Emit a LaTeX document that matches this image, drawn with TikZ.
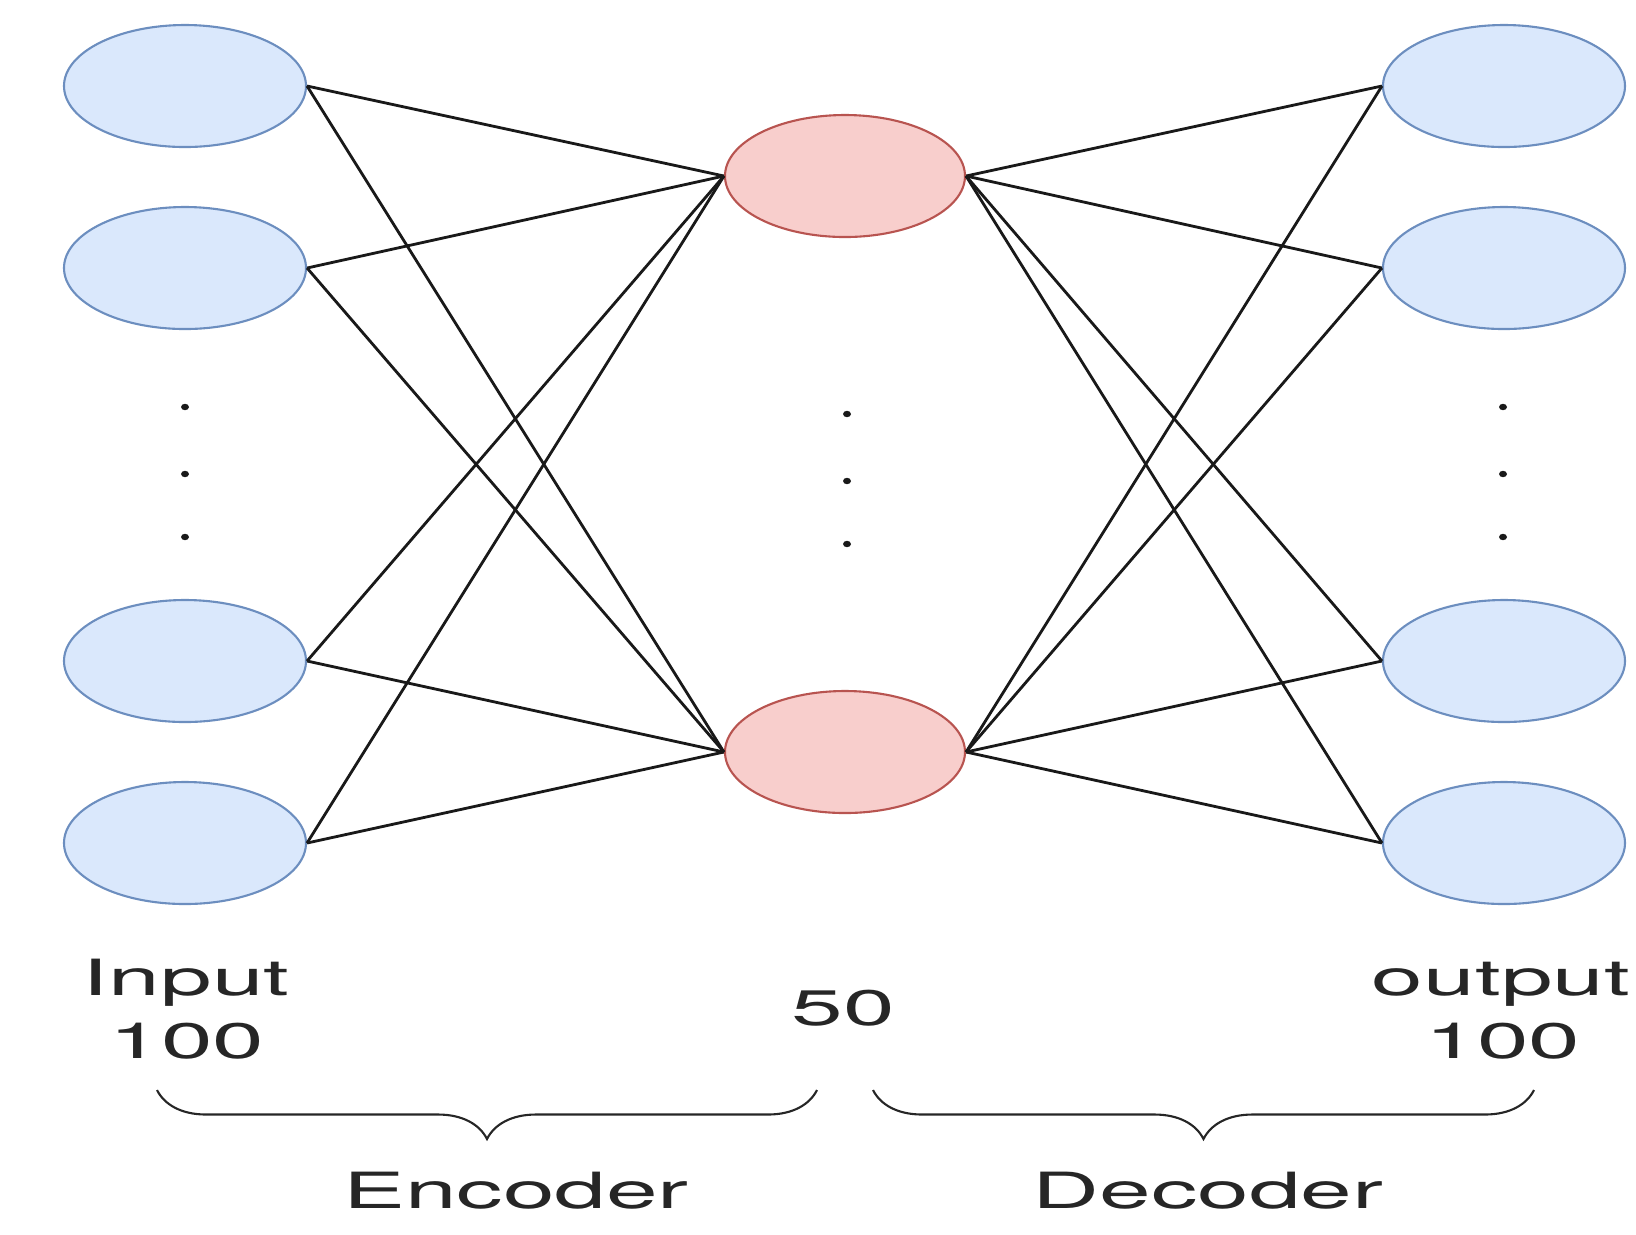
\documentclass[tikz,border=0pt]{standalone}
\usepackage{fontspec}
\setmainfont{TeX Gyre Heros}[FakeStretch=1.86]
\usetikzlibrary{shapes.geometric,decorations.pathreplacing}

\definecolor{bluefill}{HTML}{DAE8FC}
\definecolor{blueline}{HTML}{6C8EBF}
\definecolor{redfill}{HTML}{F8CECC}
\definecolor{redline}{HTML}{B85450}

\begin{document}
\begin{tikzpicture}[
    unit/.style={ellipse, draw=blueline, fill=bluefill, line width=0.6pt, minimum width=2.42cm, minimum height=1.22cm, inner sep=0pt},
    code/.style={ellipse, draw=redline, fill=redfill, line width=0.6pt, minimum width=2.4cm, minimum height=1.22cm, inner sep=0pt},
    wire/.style={line width=0.8pt, black!90},
    lbl/.style={anchor=base, inner sep=0pt, text=black!85, font=\fontsize{14.2}{17}\selectfont},
    curly/.style={decorate, decoration={brace, mirror, amplitude=4.9mm}, line width=0.6pt, black!85}
]
    \useasboundingbox (0,0) rectangle (16.36,-12.34);

    % input layer
    \node[unit] (in1) at (1.85,-0.86) {};
    \node[unit] (in2) at (1.85,-2.68) {};
    \node[unit] (in3) at (1.85,-6.61) {};
    \node[unit] (in4) at (1.85,-8.43) {};

    % bottleneck
    \node[code] (h1) at (8.45,-1.76) {};
    \node[code] (h2) at (8.45,-7.52) {};

    % output layer
    \node[unit] (out1) at (15.04,-0.86) {};
    \node[unit] (out2) at (15.04,-2.68) {};
    \node[unit] (out3) at (15.04,-6.61) {};
    \node[unit] (out4) at (15.04,-8.43) {};

    \foreach \i in {1,...,4}
        \foreach \h in {1,2} {
            \draw[wire] (in\i.east) -- (h\h.west);
            \draw[wire] (h\h.east) -- (out\i.west);
        }

    % dots
    \foreach \x/\dy in {1.85/0, 8.47/-0.07, 15.03/0}
        \foreach \y in {-4.07,-4.74,-5.37}
            \fill[black!90] (\x,\y+\dy) ellipse (0.04 and 0.032);

    \node[lbl] (inlbl) at (1.86,-9.95) {Input};
    \node[lbl] (innum) at (1.87,-10.58) {100};
    \node[lbl] (hnum) at (8.43,-10.25) {50};
    \node[lbl] (outlbl) at (15.01,-9.95) {output};
    \node[lbl] (outnum) at (15.03,-10.58) {100};

    \coordinate (encL) at (1.57,-10.90);
    \coordinate (encR) at (8.17,-10.90);
    \coordinate (decL) at (8.73,-10.90);
    \coordinate (decR) at (15.34,-10.90);
    \draw[curly] (encL) -- (encR);
    \draw[curly] (decL) -- (decR);

    \node[lbl] (enc) at (5.16,-12.08) {Encoder};
    \node[lbl] (dec) at (12.08,-12.08) {Decoder};
\end{tikzpicture}
\end{document}
